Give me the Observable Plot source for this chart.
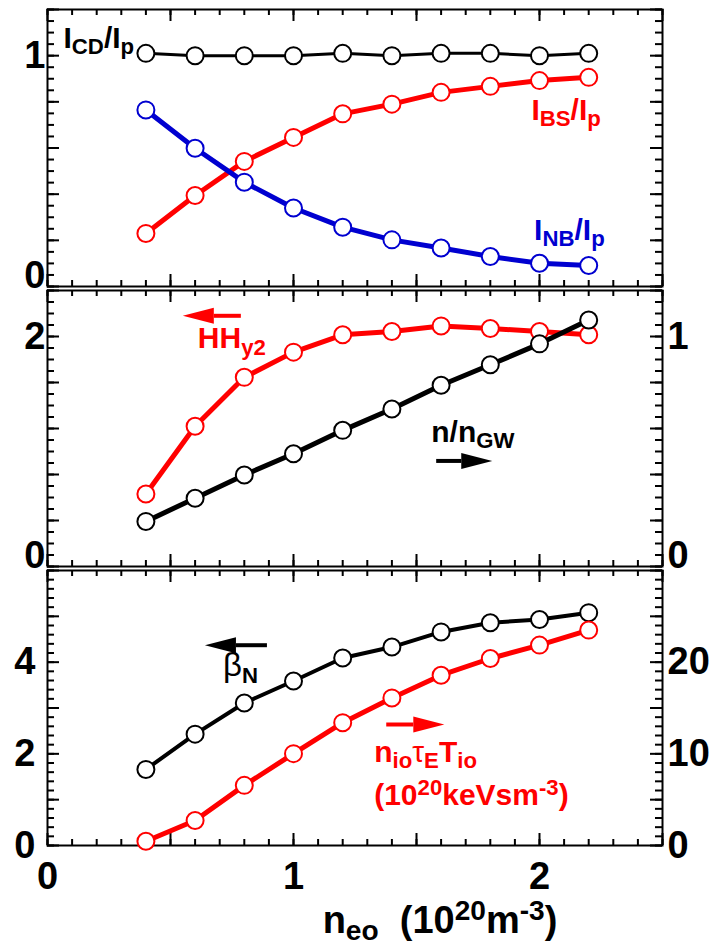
<!DOCTYPE html>
<html><head><meta charset="utf-8">
<script src="https://cdn.jsdelivr.net/npm/d3@7"></script>
<script src="https://cdn.jsdelivr.net/npm/@observablehq/plot@0.6"></script>
<style>
body{margin:0;background:#fff;}
#chart{position:relative;width:713px;height:947px;overflow:hidden;background:#fff;}
</style></head><body><div id="chart"></div>
<script>
// ---------- data ----------
const ne = [0.4, 0.6, 0.8, 1.0, 1.2, 1.4, 1.6, 1.8, 2.0, 2.2];
const iCD = [1.01, 1.0, 1.0, 1.0, 1.01, 1.0, 1.01, 1.01, 1.0, 1.01];
const iBS = [0.23, 0.394, 0.542, 0.646, 0.748, 0.79, 0.841, 0.867, 0.892, 0.906];
const iNB = [0.765, 0.599, 0.452, 0.34, 0.257, 0.202, 0.167, 0.13, 0.101, 0.091];
const hhy2 = [0.63, 1.22, 1.645, 1.864, 2.015, 2.043, 2.092, 2.07, 2.043, 2.015];
const nOverGW = [0.196, 0.297, 0.398, 0.49, 0.592, 0.685, 0.788, 0.877, 0.968, 1.072];
const betaN = [1.66, 2.43, 3.11, 3.59, 4.09, 4.33, 4.66, 4.86, 4.93, 5.08];
const tripleProduct = [0.47, 2.73, 6.56, 10.02, 13.4, 16.1, 18.58, 20.4, 21.86, 23.5];

// ---------- scales / ticks ----------
const xDomain = [0, 2.5];
const xMinorTicks = d3.ticks(0, 2.5, 25);
const xMajorTicks = [0, 0.5, 1, 1.5, 2, 2.5];
const xTickLabels = [0, 1, 2];

const p1Domain = [0, 1.2], p1Minor = d3.ticks(0, 1.2, 24), p1Major = [0, 0.2, 0.4, 0.6, 0.8, 1, 1.2], p1Labels = [1], p1Zero = [0];
const p2LDomain = [0, 2.4], p2LMinor = d3.ticks(0, 2.4, 24), p2LMajor = [0, 0.4, 0.8, 1.2, 1.6, 2, 2.4], p2LLabels = [2], p2LZero = [0];
const p2RDomain = [0, 1.2], p2RMinor = d3.ticks(0, 1.2, 24), p2RMajor = [0, 0.2, 0.4, 0.6, 0.8, 1, 1.2], p2RLabels = [1], p2RZero = [0];
const p3LDomain = [0, 6], p3LMinor = d3.ticks(0, 6, 30), p3LMajor = [0, 1, 2, 3, 4, 5, 6], p3LLabels = [0, 2, 4];
const p3RDomain = [0, 30], p3RMinor = d3.ticks(0, 30, 30), p3RMajor = [0, 5, 10, 15, 20, 25, 30], p3RLabels = [0, 10, 20];

// ---------- annotations ----------
const BLUE = "#0000d0", RED = "#ff0000", BLACK = "#000000";
const notes1 = [
  {label: "I_{CD}/I_{p}", x: 0.065, y: 1.035, color: BLACK},
  {label: "I_{BS}/I_{p}", x: 1.967, y: 0.723, color: RED},
  {label: "I_{NB}/I_{p}", x: 1.978, y: 0.203, color: BLUE}
];
const notes2L = [{label: "HH_{y2}", x: 0.611, y: 1.896, color: RED}];
const notes2R = [{label: "n/n_{GW}", x: 1.56, y: 0.542, color: BLACK}];
const notes3L = [{label: "~{β}_{N}", x: 0.713, y: 3.69, color: BLACK}];
const notes3R = [
  {label: "n_{io}~{τ}_{E}T_{io}", x: 1.328, y: 9.1, color: RED},
  {label: "(10^{20}keVsm^{-3})", x: 1.328, y: 4.37, color: RED}
];
const arrows2L = [{tail: 0.786, base: 0.676, y: 2.18, dir: -1, color: RED}];
const arrows2R = [{tail: 1.580, base: 1.682, y: 0.459, dir: 1, color: BLACK}];
const arrows3L = [{tail: 0.892, base: 0.766, y: 4.37, dir: -1, color: BLACK}];
const arrows3R = [{tail: 1.377, base: 1.487, y: 13.2, dir: 1, color: RED}];
const xTitle = "n_{eo}  (10^{20}m^{-3})";

// ---------- helpers ----------
const FONT = "'Liberation Sans', Arial, Helvetica, sans-serif";
const W = 713, ML = 47, MR = 51, FW = W - ML - MR;
const MINOR = 7, MAJOR = 12;
const HEAD_L = 31, HEAD_W = 16;
const headRight = {draw(c) { c.moveTo(0, -HEAD_W / 2); c.lineTo(HEAD_L, 0); c.lineTo(0, HEAD_W / 2); c.closePath(); }};
const headLeft = {draw(c) { c.moveTo(0, -HEAD_W / 2); c.lineTo(-HEAD_L, 0); c.lineTo(0, HEAD_W / 2); c.closePath(); }};

// inward ticks: tick marks spanning the frame, inset so only a short stub remains at the edge
function xFrameTicks(fh) {
  const o = {stroke: "black", strokeWidth: 2};
  return [
    Plot.tickX(xMinorTicks, {...o, x: d => d, insetBottom: fh - 6}),
    Plot.tickX(xMajorTicks, {...o, x: d => d, insetBottom: fh - MAJOR}),
    Plot.tickX(xMinorTicks, {...o, x: d => d, insetTop: fh - 6}),
    Plot.tickX(xMajorTicks, {...o, x: d => d, insetTop: fh - MAJOR})
  ];
}
function yFrameTicks(side, minor, major) {
  const o = {stroke: "black", strokeWidth: 2};
  const key = side === "left" ? "insetRight" : "insetLeft";
  return [
    Plot.tickY(minor, {...o, y: d => d, [key]: FW - MINOR}),
    Plot.tickY(major, {...o, y: d => d, [key]: FW - MAJOR})
  ];
}
function yLabels(anchor, values, pad, dy = 0) {
  return Plot.axisY(values, {anchor, tickSize: 0, tickPadding: pad, label: null, fontSize: 38,
    fontWeight: "bold", fontFamily: FONT, dy, tickFormat: d => String(d)});
}
function series(ys, color, width) {
  const data = ne.map((x, i) => ({x, y: ys[i]}));
  return [
    Plot.line(data, {x: "x", y: "y", stroke: color, strokeWidth: width, strokeLinejoin: "round"}),
    Plot.dot(data, {x: "x", y: "y", r: 8.5, fill: "white", stroke: color, strokeWidth: 2})
  ];
}
function notes(list) {
  return list.map(n => Plot.text([n], {x: "x", y: "y", text: "label", fill: n.color, fontSize: 30,
    fontWeight: "bold", fontFamily: FONT, textAnchor: "start", lineAnchor: "bottom"}));
}
function arrows(list) {
  return list.flatMap(a => [
    Plot.link([a], {x1: "tail", x2: "base", y1: "y", y2: "y", stroke: a.color, strokeWidth: 4}),
    Plot.dot([a], {x: "base", y: "y", symbol: a.dir > 0 ? headRight : headLeft, fill: a.color, stroke: "none"})
  ]);
}
function makePlot({top, height, mt, mb, yDomain, marks}) {
  return Plot.plot({
    width: W, height,
    marginLeft: ML, marginRight: MR, marginTop: mt, marginBottom: mb,
    x: {domain: xDomain, label: null, axis: null},
    y: {domain: yDomain, label: null, axis: null},
    style: `position:absolute;left:0;top:${top}px;background:transparent;overflow:visible;font-family:${FONT};`,
    marks
  });
}
const frame = Plot.frame({stroke: "black", strokeWidth: 2});

// ---------- panel 1 ----------
const P1 = {top: 0, height: 288, mt: 9, mb: 2};
const FH1 = P1.height - P1.mt - P1.mb;
const panel1 = makePlot({...P1, yDomain: p1Domain, marks: [
  ...xFrameTicks(FH1),
  ...yFrameTicks("left", p1Minor, p1Major),
  ...yFrameTicks("right", p1Minor, p1Major),
  yLabels("left", p1Labels, 2),
  yLabels("left", p1Zero, 2, -11),
  ...series(iCD, BLACK, 3),
  ...series(iBS, RED, 5),
  ...series(iNB, BLUE, 5),
  ...notes(notes1),
  frame
]});

// ---------- panel 2 ----------
const P2 = {top: 288, height: 280, mt: 2, mb: 2};
const FH2 = P2.height - P2.mt - P2.mb;
const panel2 = makePlot({...P2, yDomain: p2LDomain, marks: [
  ...xFrameTicks(FH2),
  ...yFrameTicks("left", p2LMinor, p2LMajor),
  yLabels("left", p2LLabels, 2),
  yLabels("left", p2LZero, 2, -11),
  ...series(hhy2, RED, 5),
  ...notes(notes2L),
  ...arrows(arrows2L),
  frame
]});
const panel2R = makePlot({...P2, yDomain: p2RDomain, marks: [
  ...yFrameTicks("right", p2RMinor, p2RMajor),
  yLabels("right", p2RLabels, 5),
  yLabels("right", p2RZero, 5, -11),
  ...series(nOverGW, BLACK, 5),
  ...notes(notes2R),
  ...arrows(arrows2R)
]});

// ---------- panel 3 ----------
const P3 = {top: 568, height: 379, mt: 2, mb: 102};
const FH3 = P3.height - P3.mt - P3.mb;
const panel3 = makePlot({...P3, yDomain: p3LDomain, marks: [
  ...xFrameTicks(FH3),
  ...yFrameTicks("left", p3LMinor, p3LMajor),
  yLabels("left", p3LLabels, 12),
  Plot.axisX(xTickLabels, {anchor: "bottom", tickSize: 0, tickPadding: 17, label: null, fontSize: 38,
    fontWeight: "bold", fontFamily: FONT, tickFormat: d => String(d)}),
  Plot.text([xTitle], {text: d => d, frameAnchor: "bottom", textAnchor: "middle", lineAnchor: "bottom",
    dx: 85, dy: 87, fontSize: 38, fontWeight: "bold", fontFamily: FONT, fill: BLACK}),
  ...series(betaN, BLACK, 4),
  ...notes(notes3L),
  ...arrows(arrows3L),
  frame
]});
const panel3R = makePlot({...P3, yDomain: p3RDomain, marks: [
  ...yFrameTicks("right", p3RMinor, p3RMajor),
  yLabels("right", p3RLabels, 5),
  ...series(tripleProduct, RED, 5),
  ...notes(notes3R),
  ...arrows(arrows3R)
]});

const chart = document.getElementById("chart");
for (const svg of [panel1, panel2, panel2R, panel3, panel3R]) chart.appendChild(svg);

// ---------- sub/superscript markup -> tspans ----------
function richText(root) {
  const NS = "http://www.w3.org/2000/svg";
  root.querySelectorAll("text").forEach(t => {
    const s = t.textContent;
    if (!/[_^~]\{/.test(s)) return;
    const fs = parseFloat(getComputedStyle(t).fontSize) || 30;
    const re = /([_^~])\{([^}]*)\}/g;
    const parts = [];
    let last = 0, m;
    while ((m = re.exec(s))) {
      if (m.index > last) parts.push({k: "", s: s.slice(last, m.index)});
      parts.push({k: m[1], s: m[2]});
      last = re.lastIndex;
    }
    if (last < s.length) parts.push({k: "", s: s.slice(last)});
    t.textContent = "";
    t.style.whiteSpace = "pre";
    let shift = 0;
    for (const p of parts) {
      const ts = document.createElementNS(NS, "tspan");
      const target = p.k === "_" ? 0.21 * fs : p.k === "^" ? -0.34 * fs : 0;
      const dy = target - shift;
      shift = target;
      if (dy) ts.setAttribute("dy", dy.toFixed(2));
      if (p.k === "_" || p.k === "^") ts.setAttribute("font-size", (0.74 * fs).toFixed(1));
      if (p.k === "~") { ts.setAttribute("font-weight", "normal"); if (p.s === "β") ts.setAttribute("font-size", (1.1 * fs).toFixed(1)); }
      ts.textContent = p.s;
      t.appendChild(ts);
    }
  });
}
richText(chart);
</script></body></html>
